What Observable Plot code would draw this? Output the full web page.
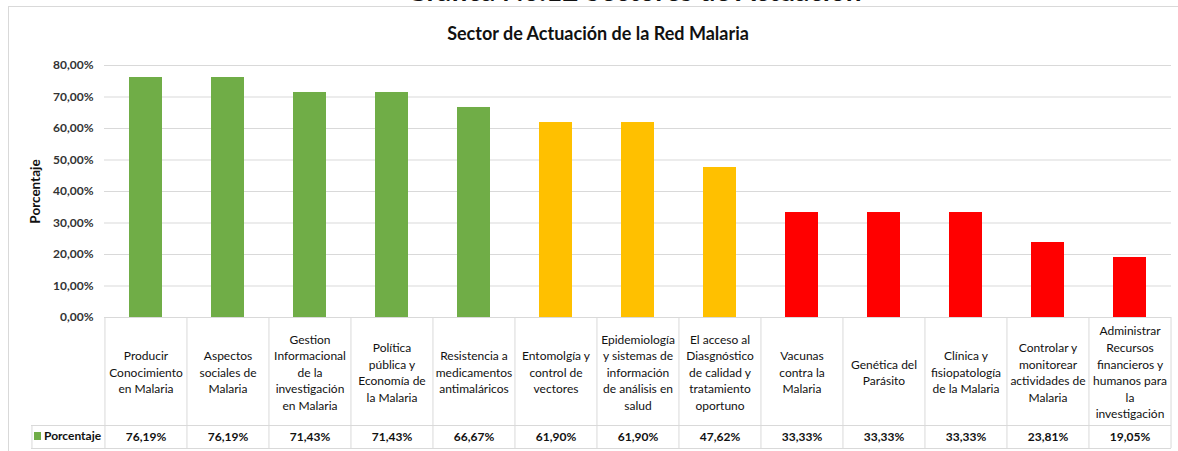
<!DOCTYPE html>
<html>
<head>
<meta charset="utf-8">
<script src="https://cdn.jsdelivr.net/npm/d3@7"></script>
<script src="https://cdn.jsdelivr.net/npm/@observablehq/plot@0.6"></script>
<style>
  html, body { margin: 0; padding: 0; background: #fff; }
  #wrap { position: relative; width: 1178px; height: 451px; overflow: hidden; font-family: Lato, "Open Sans", sans-serif; background: #fff; }
  #chart svg { position: absolute; left: 0; top: 0; background: transparent !important; }
  #chart svg g[aria-label^="y-axis"] text { font-weight: bold; fill: #333; }
  .frame { position: absolute; left: 8px; top: 6px; right: -6px; bottom: -6px; border: 1.5px solid #d9d9d9; }
  .toptitle { position: absolute; left: 634px; top: -24px; transform: translateX(-50%); white-space: nowrap; font-weight: bold; font-size: 28px; line-height: 28px; color: #111; }
  .title { position: absolute; left: 598px; top: 23px; transform: translateX(-50%); white-space: nowrap; font-weight: bold; font-size: 18px; line-height: 20px; color: #111; }
  .legend { position: absolute; left: 34px; top: 428px; font-weight: bold; font-size: 12px; line-height: 16px; color: #111; white-space: nowrap; }
  .legend .sw { display: inline-block; width: 7px; height: 8px; background: #70ad47; margin-right: 3px; vertical-align: -0px; }
</style>
</head>
<body>
<div id="wrap">
  <div id="chart"></div>
  <div class="frame"></div>
  <div class="toptitle">Gráfica No.12 Sectores de Actuación</div>
  <div class="title">Sector de Actuación de la Red Malaria</div>
  <div class="legend"><span class="sw"></span>Porcentaje</div>
</div>
<script>
const categorias = [
  "Producir\nConocimiento\nen Malaria",
  "Aspectos\nsociales de\nMalaria",
  "Gestion\nInformacional\nde la\ninvestigación\nen Malaria",
  "Política\npública y\nEconomía de\nla Malaria",
  "Resistencia a\nmedicamentos\nantimaláricos",
  "Entomolgía y\ncontrol de\nvectores",
  "Epidemiología\ny sistemas de\ninformación\nde análisis en\nsalud",
  "El acceso al\nDiasgnóstico\nde calidad y\ntratamiento\noportuno",
  "Vacunas\ncontra la\nMalaria",
  "Genética del\nParásito",
  "Clínica y\nfisiopatología\nde la Malaria",
  "Controlar y\nmonitorear\nactividades de\nMalaria",
  "Administrar\nRecursos\nfinancieros y\nhumanos para\nla\ninvestigación"
];
const porcentaje = [76.19, 76.19, 71.43, 71.43, 66.67, 61.90, 61.90, 47.62, 33.33, 33.33, 33.33, 23.81, 19.05];
const nivel = ["alto","alto","alto","alto","alto","medio","medio","medio","bajo","bajo","bajo","bajo","bajo"];
const yTicks = [0, 10, 20, 30, 40, 50, 60, 70, 80];

const data = categorias.map((c, i) => ({cat: c, value: porcentaje[i], nivel: nivel[i]}));
const fmt = d => d.toFixed(2).replace(".", ",") + "%";

const W = 1178, H = 451, mL = 104, mR = 7, mT = 65, mB = 134;
const step = (W - mL - mR) / categorias.length;
const frameH = H - mT - mB;
const line = "#d9d9d9";
const tableBottom = 131, valueTop = 108, legendLeft = 73;

const chart = Plot.plot({
  width: W, height: H,
  marginLeft: mL, marginRight: mR, marginTop: mT, marginBottom: mB,
  style: {fontFamily: "Lato, 'Open Sans', sans-serif", fontSize: "12px", background: "transparent", color: "#111"},
  x: {domain: categorias, paddingInner: 0.6, paddingOuter: 0.3, axis: null},
  y: {domain: [0, 80], ticks: yTicks, tickFormat: fmt, tickSize: 0, tickPadding: 11, label: null},
  color: {domain: ["alto", "medio", "bajo"], range: ["#70ad47", "#ffc000", "#ff0000"]},
  marks: [
    Plot.ruleY(yTicks, {stroke: line, strokeWidth: 1}),
    Plot.barY(data, {x: "cat", y: "value", fill: "nivel"}),
    // table grid
    Plot.ruleX(categorias, {x: d => d, dx: -step / 2, insetTop: frameH, insetBottom: -tableBottom, stroke: line}),
    Plot.ruleX([categorias[categorias.length - 1]], {x: d => d, dx: step / 2, insetTop: frameH, insetBottom: -tableBottom, stroke: line}),
    Plot.ruleX([categorias[0]], {x: d => d, dx: -step / 2 - legendLeft, insetTop: frameH + valueTop, insetBottom: -tableBottom, stroke: line}),
    Plot.ruleY([0], {dy: valueTop, insetLeft: -legendLeft, stroke: line}),
    Plot.ruleY([0], {dy: tableBottom, insetLeft: -legendLeft, stroke: line}),
    // table text
    Plot.text(categorias, {x: d => d, text: d => d, frameAnchor: "bottom", dy: 54, lineAnchor: "middle", lineHeight: 1.38, fontSize: 12, fill: "#111"}),
    Plot.text(data, {x: "cat", text: d => fmt(d.value), frameAnchor: "bottom", dy: 120, lineAnchor: "middle", fontSize: 12, fontWeight: "bold", fill: "#111"}),
    // y label
    Plot.text(["Porcentaje"], {text: d => d, frameAnchor: "left", dx: -69, rotate: -90, textAnchor: "middle", fontSize: 13.5, fontWeight: "bold", fill: "#111"})
  ]
});
document.getElementById("chart").appendChild(chart);
</script>
</body>
</html>
